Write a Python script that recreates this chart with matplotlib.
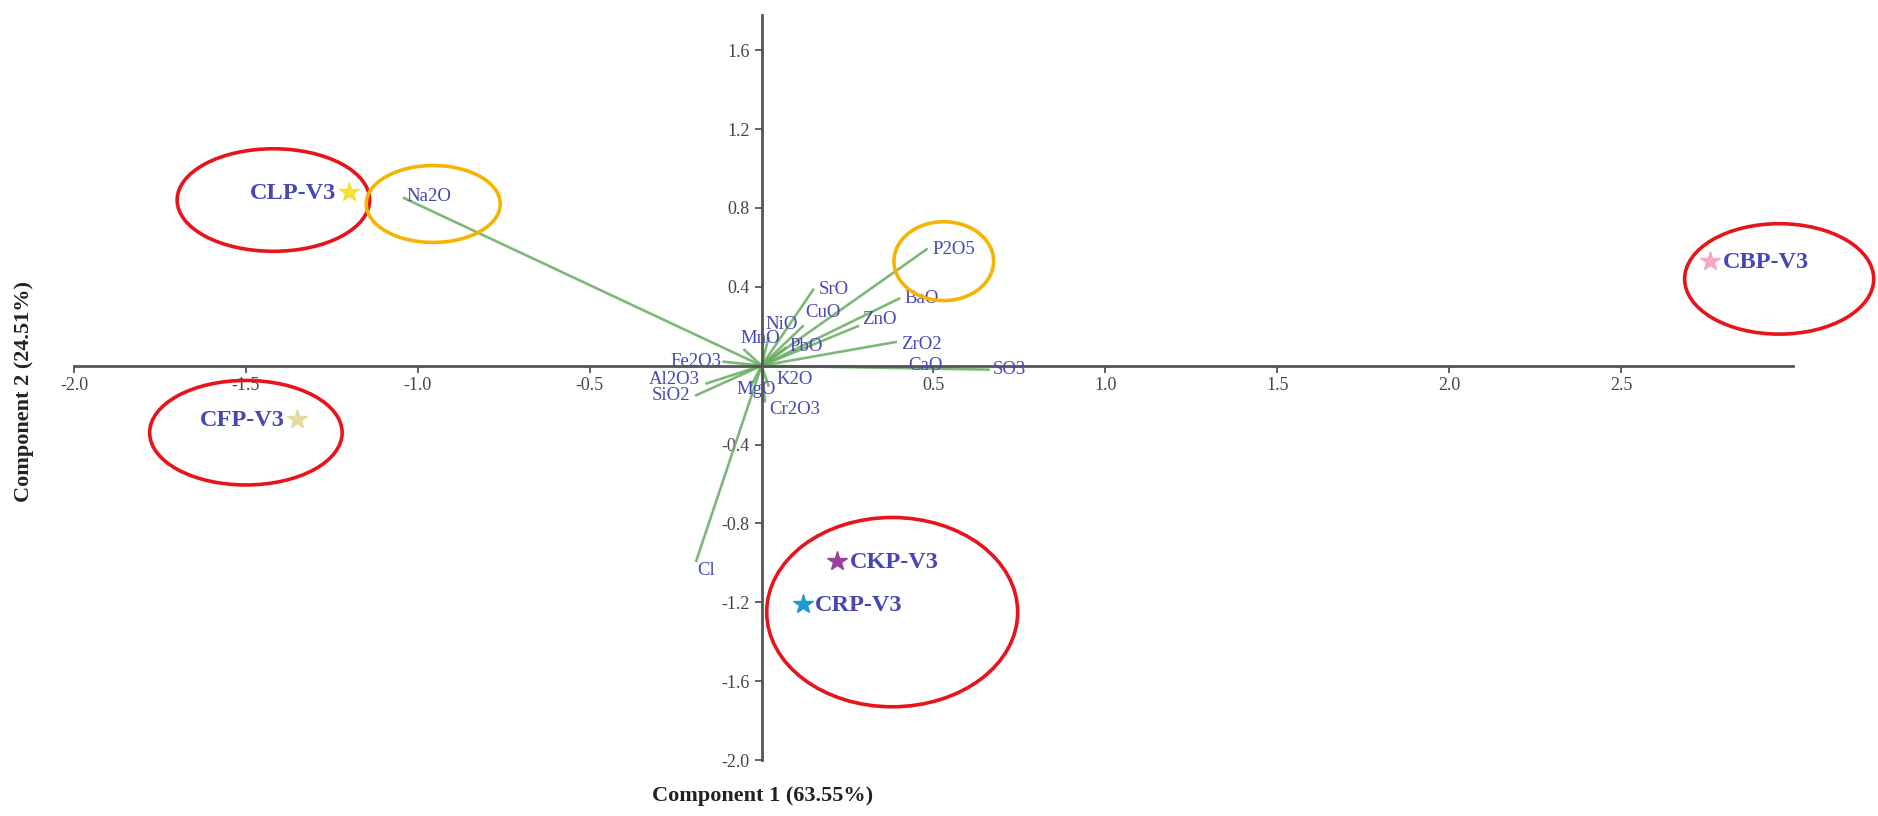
import matplotlib
matplotlib.use("Agg")
import matplotlib.pyplot as plt
from matplotlib.patches import Ellipse

# sample scores (component 1, component 2)
samples = ["CLP-V3", "CFP-V3", "CBP-V3", "CKP-V3", "CRP-V3"]
score1 = [-1.20, -1.35, 2.76, 0.22, 0.12]
score2 = [0.88, -0.27, 0.53, -0.99, -1.21]
sample_colors = ["#f2e23a", "#e6d9a2", "#f4a8c8", "#9a3f9c", "#1c9ad6"]

# oxide loadings
oxides = ["Na2O", "P2O5", "BaO", "SrO", "CuO", "ZnO", "ZrO2", "CaO", "SO3",
          "NiO", "MnO", "PbO", "Fe2O3", "Al2O3", "SiO2", "MgO", "K2O",
          "Cr2O3", "Cl"]
load1 = [-1.04, 0.48, 0.40, 0.15, 0.12, 0.28, 0.39, 0.41, 0.66,
         0.02, -0.05, 0.07, -0.11, -0.16, -0.19, -0.03, 0.02, 0.01, -0.19]
load2 = [0.85, 0.59, 0.34, 0.385, 0.20, 0.20, 0.12, 0.0, -0.02,
         0.14, 0.08, 0.09, 0.02, -0.09, -0.15, -0.10, -0.10, -0.18, -0.99]

xticks = [-2.0, -1.5, -1.0, -0.5, 0.5, 1.0, 1.5, 2.0, 2.5]
yticks = [-2.0, -1.6, -1.2, -0.8, -0.4, 0.4, 0.8, 1.2, 1.6]

# label placement (offset points, alignment)
oxide_lab = {
    "Na2O": (2, 1, "left"), "P2O5": (4, 0, "left"), "BaO": (4, 0, "left"),
    "SrO": (4, 0, "left"), "CuO": (2, 10, "left"), "ZnO": (3, 5, "left"),
    "ZrO2": (4, -2, "left"), "CaO": (4, 0, "left"), "SO3": (3, 0, "left"),
    "NiO": (-2, 10, "left"), "MnO": (-3, 8, "left"), "PbO": (3, 1, "left"),
    "Fe2O3": (-2, 0, "right"), "Al2O3": (-5, 3, "right"),
    "SiO2": (-4, 0, "right"), "MgO": (18, -3, "right"), "K2O": (6, 4, "left"),
    "Cr2O3": (3, -6, "left"), "Cl": (1, -7, "left"),
}
sample_lab = {"CLP-V3": "right", "CFP-V3": "right", "CBP-V3": "left",
              "CKP-V3": "left", "CRP-V3": "left"}

# highlight rings: (cx, cy, w, h, colour)
rings = [(-1.42, 0.84, 0.56, 0.52, "#e8141c"), (-1.50, -0.34, 0.56, 0.53, "#e8141c"),
         (2.96, 0.44, 0.55, 0.56, "#e8141c"), (0.38, -1.25, 0.73, 0.96, "#e8141c"),
         (-0.955, 0.82, 0.39, 0.39, "#f5b400"), (0.53, 0.53, 0.29, 0.40, "#f5b400")]

plt.rcParams['font.family'] = ['Liberation Serif', 'DejaVu Serif']
txt_col = "#4646b4"

fig = plt.figure(figsize=(18.78, 8.16), dpi=100)
ax = fig.add_axes([0.0394, 0.0686, 0.9153, 0.9134])

for name, a, b in zip(oxides, load1, load2):
    ax.plot([0, a], [0, b], color="#68ac60", lw=1.9, alpha=0.85, zorder=2)
    dx, dy, ha = oxide_lab[name]
    ax.annotate(name, (a, b), xytext=(dx, dy), textcoords="offset points",
                ha=ha, va="center", fontsize=13.5, color=txt_col, zorder=4)

for name, a, b, c in zip(samples, score1, score2, sample_colors):
    ax.plot(a, b, marker="*", ms=15, color=c, mec=c, ls="none", zorder=5)
    ha = sample_lab[name]
    off = -9 if ha == "right" else 9
    ax.annotate(name, (a, b), xytext=(off, -1), textcoords="offset points",
                ha=ha, va="center", fontsize=17.5, fontweight="bold",
                color=txt_col, zorder=5)

for cx, cy, w, h, c in rings:
    ax.add_patch(Ellipse((cx, cy), w, h, fill=False, ec=c, lw=2.6,
                         clip_on=False, zorder=6))

ax.set_xlim(-2.0, 3.0)
ax.set_ylim(-2.0, 1.78)
ax.spines['left'].set_position(('data', 0))
ax.spines['bottom'].set_position(('data', 0))
ax.spines['top'].set_visible(False)
ax.spines['right'].set_visible(False)
for s in ['left', 'bottom']:
    ax.spines[s].set_color("#555555")
    ax.spines[s].set_linewidth(2.0)
ax.set_xticks(xticks)
ax.set_xticklabels([f"{t:.1f}" for t in xticks])
ax.set_yticks(yticks)
ax.set_yticklabels([f"{t:.1f}" for t in yticks])
ax.tick_params(direction="out", length=5, width=1.3, color="#555555",
               labelsize=13, labelcolor="#444444")

fig.text(0.406, 0.024, "Component 1 (63.55%)", ha="center", va="center",
         fontsize=16, fontweight="bold", color="#222222")
fig.text(0.013, 0.52, "Component 2 (24.51%)", ha="center", va="center",
         rotation=90, fontsize=16, fontweight="bold", color="#222222")

fig.savefig("out.png", dpi=100, facecolor="white")
